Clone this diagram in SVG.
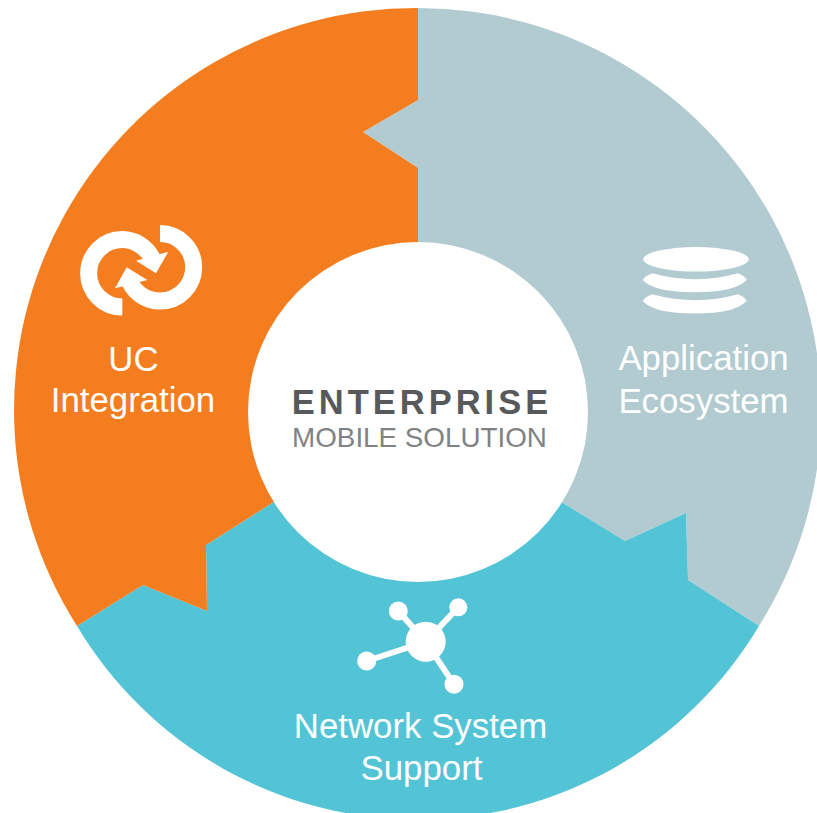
<svg xmlns="http://www.w3.org/2000/svg" width="817" height="813" viewBox="0 0 817 813">
<style>
.w{fill:#fff}
.l{font-family:"Liberation Sans",Arial,sans-serif;font-size:34.800px;fill:#fff;text-anchor:middle}
.ring{fill:none;stroke:#fff;stroke-width:17}
.spoke{fill:none;stroke:#fff;stroke-width:6}
</style>
<rect width="817" height="813" fill="#fff"/>
<g id="application-ecosystem">
<path d="M418 8A403 403 0 0 1 759 626L688 580L686 513L625 541L563 503L418 412L418 168L363 132L418 100Z" fill="#b1cbd1"/>
<path class="w" d="M643.300 259.300A52.700 12.300 0 1 1 748.700 259.300A52.700 12.300 0 1 1 643.300 259.300Z"/>
<path class="w" d="M642.700 280Q645 276 652 273.300Q696 285 738 273.300Q745 276 746.700 280Q735 292.300 695 292.300Q654 292.300 642.700 280Z"/>
<path class="w" d="M642.700 301Q645 297 652 294.300Q696 306 738 294.300Q745 297 746.700 301Q735 313.500 695 313.500Q654 313.500 642.700 301Z"/>
<text class="l" x="703.500" y="370">Application</text>
<text class="l" x="703.500" y="413">Ecosystem</text>
</g>
<g id="network-system-support">
<path d="M77 626L143 585L207 611L206 545L272 503L418 412L563 503L625 541L686 513L688 580L759 626A397 397 0 0 1 77 626Z" fill="#53c4d6"/>
<path class="spoke" d="M398.300 611L425.700 641.700L458.300 607.300M366.700 661L425.700 641.700L454 684.300"/>
<circle class="w" cx="425.700" cy="641.700" r="20"/>
<circle class="w" cx="398.300" cy="611" r="9.500"/>
<circle class="w" cx="458.300" cy="607.300" r="9"/>
<circle class="w" cx="366.700" cy="661" r="9.500"/>
<circle class="w" cx="454" cy="684.300" r="9.500"/>
<text class="l" x="420.500" y="738">Network System</text>
<text class="l" x="421.500" y="780">Support</text>
</g>
<g id="uc-integration">
<path d="M418 8A402 402 0 0 0 77 626L143 585L207 611L206 545L272 503L418 412L418 168L363 132L418 100Z" fill="#f47d20"/>
<path class="ring" d="M122.300 307A33.700 33.700 0 0 1 122.300 239.600A33.700 33.700 0 0 1 152 258"/>
<path class="ring" d="M160 233.600A33.700 33.700 0 0 1 160 301A33.700 33.700 0 0 1 130 282.500"/>
<polygon class="w" points="136,260.700 168.300,251.700 156,273.300"/>
<polygon class="w" points="126.700,267.300 147.300,280 115,288.300"/>
<text class="l" x="133.500" y="370.500">UC</text>
<text class="l" x="133" y="412">Integration</text>
</g>
<g id="enterprise-mobile-solution">
<circle class="w" cx="418" cy="412" r="170"/>
<text x="422" y="414" font-family="'Liberation Sans',Arial,sans-serif" font-size="34.500" font-weight="bold" fill="#58595b" text-anchor="middle" letter-spacing="4">ENTERPRISE</text>
<text x="419.500" y="446.500" font-family="'Liberation Sans',Arial,sans-serif" font-size="27.800" fill="#808285" text-anchor="middle">MOBILE SOLUTION</text>
</g>
<g id="connectors"></g>
</svg>
